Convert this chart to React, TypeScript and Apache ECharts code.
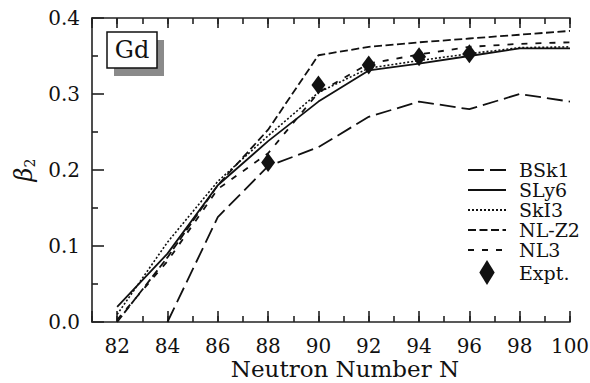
import { useEffect, useRef } from "react";
import * as echarts from "echarts";

const neutronN = [82, 84, 86, 88, 90, 92, 94, 96, 98, 100];
const bsk1 = [null, 0.0, 0.138, 0.205, 0.23, 0.27, 0.29, 0.28, 0.3, 0.29];
const sly6 = [0.02, 0.09, 0.18, 0.238, 0.29, 0.331, 0.34, 0.35, 0.36, 0.36];
const ski3 = [0.01, 0.105, 0.185, 0.245, 0.302, 0.334, 0.344, 0.353, 0.361, 0.362];
const nlz2 = [0.0, 0.085, 0.18, 0.253, 0.351, 0.362, 0.368, 0.373, 0.378, 0.383];
const nl3 = [0.003, 0.08, 0.175, 0.222, 0.302, 0.34, 0.352, 0.362, 0.366, 0.368];
const exptN = [88, 90, 92, 94, 96];
const expt = [0.21, 0.312, 0.338, 0.349, 0.353];
const seriesNames = ["BSk1", "SLy6", "SkI3", "NL-Z2", "NL3", "Expt."];

const FONT = "DejaVu Serif";
const INK = "#111";

function pairs(xs: number[], ys: (number | null)[]) {
  const out: number[][] = [];
  xs.forEach((x, i) => {
    const y = ys[i];
    if (y !== null && y !== undefined) out.push([x, y]);
  });
  return out;
}

export default function App() {
  const ref = useRef<HTMLDivElement>(null);
  useEffect(() => {
    const chart = echarts.init(ref.current!, null, { renderer: "svg" });
    const axisLineStyle = { color: "#222", width: 1.6 };
    const xBase: any = {
      type: "value",
      min: 81,
      max: 100,
      gridIndex: 0,
      splitLine: { show: false },
      minorSplitLine: { show: false },
    };
    const lineSeries = (name: string, ys: (number | null)[], type: any, width = 1.8) => ({
      name,
      type: "line",
      data: pairs(neutronN, ys),
      symbol: "none",
      showSymbol: false,
      lineStyle: { color: INK, width, type },
      itemStyle: { color: INK },
      z: 3,
    });
    const hiddenMarker = { opacity: 0, color: "rgba(0,0,0,0)", borderWidth: 0 };
    const option: any = {
      animation: false,
      backgroundColor: "#fff",
      grid: { left: 92, right: 20, top: 18, bottom: 61, outerBoundsMode: "none" },
      xAxis: [
        {
          ...xBase,
          position: "bottom",
          splitNumber: 10,
          axisLine: { show: true, onZero: false, lineStyle: axisLineStyle },
          axisTick: { show: true, inside: true, length: 11, lineStyle: axisLineStyle },
          axisLabel: {
            show: true,
            formatter: (v: number) => (v % 2 === 0 ? String(v) : ""),
            fontFamily: FONT,
            fontSize: 20,
            color: INK,
            margin: 14,
          },
        },
        {
          ...xBase,
          position: "bottom",
          interval: 1,
          axisLine: { show: false, onZero: false },
          axisTick: { show: true, inside: true, length: 6, lineStyle: axisLineStyle },
          axisLabel: { show: false },
        },
        {
          ...xBase,
          position: "top",
          splitNumber: 10,
          axisLine: { show: true, onZero: false, lineStyle: axisLineStyle },
          axisTick: { show: true, inside: true, length: 10, lineStyle: axisLineStyle },
          axisLabel: { show: false },
        },
        {
          ...xBase,
          position: "top",
          interval: 1,
          axisLine: { show: false, onZero: false },
          axisTick: { show: true, inside: true, length: 6, lineStyle: axisLineStyle },
          axisLabel: { show: false },
        },
      ],
      yAxis: {
        type: "value",
        min: 0,
        max: 0.4,
        interval: 0.1,
        axisLine: { show: true, onZero: false, lineStyle: axisLineStyle },
        axisTick: { show: true, inside: true, length: 12, lineStyle: axisLineStyle },
        minorTick: { show: true, splitNumber: 2, length: 6, lineStyle: axisLineStyle },
        splitLine: { show: false },
        minorSplitLine: { show: false },
        axisLabel: {
          formatter: (v: number) => v.toFixed(1),
          fontFamily: FONT,
          fontSize: 20,
          color: INK,
          margin: 12,
        },
      },
      legend: {
        orient: "vertical",
        left: 467,
        top: 160,
        padding: 0,
        itemWidth: 38,
        itemHeight: 25,
        itemGap: 0,
        selectedMode: false,
        textStyle: { fontFamily: FONT, fontSize: 19, color: INK, padding: [0, 0, 0, 8] },
        data: [
          { name: "BSk1", itemStyle: hiddenMarker },
          { name: "SLy6", itemStyle: hiddenMarker },
          { name: "SkI3", itemStyle: hiddenMarker },
          { name: "NL-Z2", itemStyle: hiddenMarker },
          { name: "NL3", itemStyle: hiddenMarker },
          { name: "Expt.", icon: "path://M8,0L16,13L8,26L0,13Z", itemStyle: { color: INK, opacity: 1 } },
        ],
      },
      series: [
        lineSeries(seriesNames[0], bsk1, [16, 6]),
        lineSeries(seriesNames[1], sly6, "solid"),
        lineSeries(seriesNames[2], ski3, [2, 2], 1.6),
        lineSeries(seriesNames[3], nlz2, [8, 3.5]),
        lineSeries(seriesNames[4], nl3, [6, 8]),
        {
          name: seriesNames[5],
          type: "scatter",
          data: pairs(exptN, expt),
          symbol: "diamond",
          symbolSize: [14, 19],
          itemStyle: { color: INK, opacity: 1 },
          z: 5,
        },
      ],
      graphic: [
        { type: "rect", shape: { x: 114, y: 40, width: 50, height: 36 }, style: { fill: "#8a8a8a" }, z: 10 },
        {
          type: "rect",
          shape: { x: 107, y: 32, width: 50, height: 36 },
          style: { fill: "#fff", stroke: INK, lineWidth: 1.5 },
          z: 11,
        },
        {
          type: "text",
          x: 132,
          y: 50,
          z: 12,
          style: {
            text: "Gd",
            fontFamily: FONT,
            fontSize: 24,
            fill: INK,
            align: "center",
            verticalAlign: "middle",
          },
        },
        {
          type: "text",
          x: 24,
          y: 170,
          rotation: Math.PI / 2,
          z: 12,
          style: {
            text: "{b|β}{s|2}",
            align: "center",
            verticalAlign: "middle",
            rich: {
              b: { fontFamily: FONT, fontSize: 24, fontStyle: "italic", fill: INK },
              s: { fontFamily: FONT, fontSize: 14, fill: INK, padding: [12, 0, 0, 0] },
            },
          },
        },
        {
          type: "text",
          x: 345,
          y: 369,
          z: 12,
          style: {
            text: "Neutron Number N",
            fontFamily: FONT,
            fontSize: 23,
            fill: INK,
            align: "center",
            verticalAlign: "middle",
          },
        },
      ],
    };
    chart.setOption(option);
    return () => chart.dispose();
  }, []);
  return (
    <div
      ref={ref}
      style={{ position: "fixed", left: 0, top: 0, width: 590, height: 383, background: "#fff" }}
    />
  );
}
